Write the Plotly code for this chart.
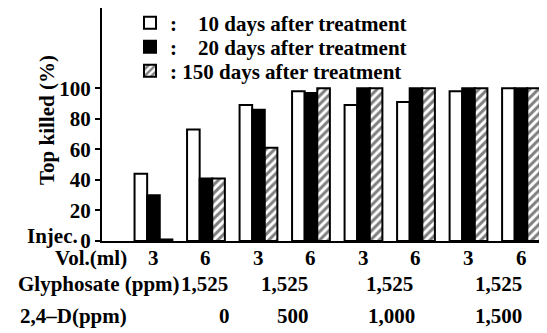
import plotly.graph_objects as go
import numpy as np

# ---- data ----
vol_labels = ["3", "6", "3", "6", "3", "6", "3", "6"]
glyphosate_ppm = ["1,525", "1,525", "1,525", "1,525"]
d24_ppm = ["0", "500", "1,000", "1,500"]
series_names = [":\u2007\u200710 days after treatment",
                ":\u2007\u200720 days after treatment",
                ": 150 days after treatment"]
days10 = [44, 73, 89, 98, 89, 91, 98, 100]
days20 = [30, 41, 86, 97, 100, 100, 100, 100]
days150 = [1, 41, 61, 100, 100, 100, 100, 100]
y_ticks = [0, 20, 40, 60, 80, 100]

FONT = "'Liberation Serif', 'Times New Roman', Times, serif"
FS = 21
OFF = 8  # page body margin
W, H = 547 - OFF, 333 - OFF
ML, MR, MT, MB = 102 - OFF, 2, 0, 92
PW, PH = W - ML - MR, H - MT - MB


def px2paper_x(px):
    return (px - OFF - ML) / PW


def px2paper_y(py):
    return (H - MB - (py - OFF)) / PH


x = np.arange(len(vol_labels))
line = dict(color="black", width=2)

fig = go.Figure()
fig.add_trace(go.Bar(x=x, y=days10, name=series_names[0], legend="legend",
                     marker=dict(color="white", line=line)))
fig.add_trace(go.Bar(x=x, y=days20, name=series_names[1], legend="legend2",
                     marker=dict(color="black", line=line)))
fig.add_trace(go.Bar(x=x, y=days150, name=series_names[2], legend="legend3",
                     marker=dict(color="white", line=line,
                                 pattern=dict(shape="/", fgcolor="black", bgcolor="white",
                                              size=6, solidity=0.5))))

ann = []
ann.append(dict(text="Top killed (%)", textangle=-90, x=px2paper_x(47), y=px2paper_y(120),
                xref="paper", yref="paper", xanchor="center", yanchor="middle", showarrow=False))
ann.append(dict(text="Injec.", x=px2paper_x(80), y=px2paper_y(236), xref="paper", yref="paper",
                xanchor="right", yanchor="middle", showarrow=False))
ann.append(dict(text="Vol.(ml)", x=px2paper_x(129), y=px2paper_y(258), xref="paper", yref="paper",
                xanchor="right", yanchor="middle", showarrow=False))
ann.append(dict(text="Glyphosate (ppm)", x=px2paper_x(182), y=px2paper_y(284), xref="paper", yref="paper",
                xanchor="right", yanchor="middle", showarrow=False))
ann.append(dict(text="2,4\u2013D(ppm)", x=px2paper_x(129), y=px2paper_y(316), xref="paper", yref="paper",
                xanchor="right", yanchor="middle", showarrow=False))
# volume row: one label under each bar group, placed on the x scale
for t, p in zip(vol_labels, x):
    ann.append(dict(text=t, x=p, y=px2paper_y(258), xref="x", yref="paper",
                    xanchor="center", yanchor="middle", showarrow=False))
glyph_pos = [0.98, 2.49, 4.49, 6.58]
d24_pos = [1.36, 2.66, 4.54, 6.58]
for t, p in zip(glyphosate_ppm, glyph_pos):
    ann.append(dict(text=t, x=p, y=px2paper_y(284), xref="x", yref="paper",
                    xanchor="center", yanchor="middle", showarrow=False))
for t, p in zip(d24_ppm, d24_pos):
    ann.append(dict(text=t, x=p, y=px2paper_y(316), xref="x", yref="paper",
                    xanchor="center", yanchor="middle", showarrow=False))

legend_rows = [23, 47, 71]


def leg(py):
    return dict(x=px2paper_x(130), y=px2paper_y(py), xanchor="left", yanchor="middle",
                bgcolor="rgba(0,0,0,0)", font=dict(family=FONT, size=FS, weight="bold"),
                itemwidth=30)


fig.update_layout(
    width=W, height=H,
    margin=dict(l=ML, r=MR, t=MT, b=MB, autoexpand=False),
    paper_bgcolor="white", plot_bgcolor="white",
    font=dict(family=FONT, size=FS, color="black", weight="bold"),
    barmode="group", bargap=0.28, bargroupgap=0,
    showlegend=True,
    legend=leg(legend_rows[0]), legend2=leg(legend_rows[1]), legend3=leg(legend_rows[2]),
    annotations=ann,
    xaxis=dict(range=[-0.98, 7.457], tickvals=x, showticklabels=False,
               showline=True, linecolor="black", linewidth=2, showgrid=False,
               zeroline=False, ticks="", automargin=False),
    yaxis=dict(range=[0, (241 - 8) / 1.527], tickmode="array", tickvals=y_ticks,
               ticktext=[str(v) for v in y_ticks],
               showline=True, linecolor="black", linewidth=2, showgrid=False,
               zeroline=False, ticks="outside", ticklen=5, tickwidth=2, tickcolor="black",
               automargin=False),
)

fig.write_html("out.html")
